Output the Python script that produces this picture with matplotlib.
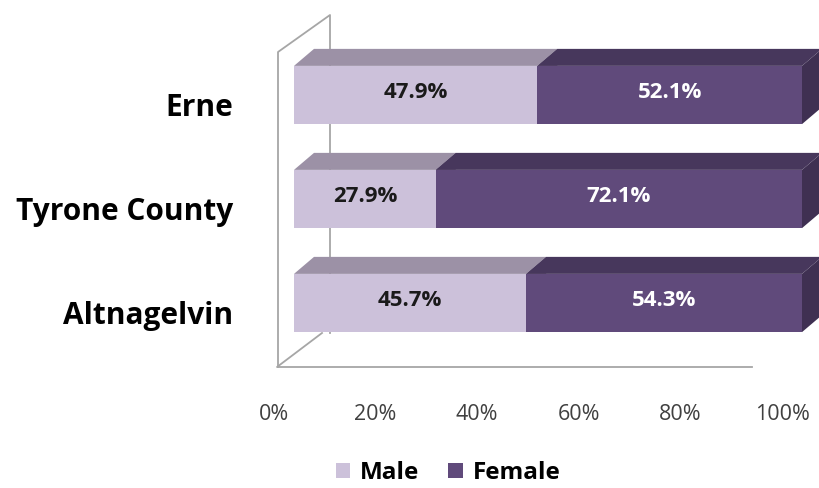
import matplotlib
matplotlib.use("Agg")
import matplotlib.pyplot as plt
from matplotlib.patches import Polygon, Patch
from matplotlib.transforms import ScaledTranslation

#data
categories = ['Altnagelvin', 'Tyrone County', 'Erne']
male = [45.7, 27.9, 47.9]
female = [54.3, 72.1, 52.1]
ticks = [0, 20, 40, 60, 80, 100]
tick_labels = ['0%', '20%', '40%', '60%', '80%', '100%']

#colours (front, top, side)
MALE_C = ('#ccc1da', '#9c91a6', '#8a8096')
FEMALE_C = ('#604a7b', '#47375c', '#3f3052')
WALL = '#a6a6a6'

plt.rcParams['font.family'] = ['Open Sans', 'DejaVu Sans']

W, H = 819, 488
fig = plt.figure(figsize=(W / 100, H / 100), dpi=100)

# axes placed so 0..100% spans the front face of the bars
px_x0, px_x1 = 294, 802
ylo, yhi = -0.8, 2.8
unit_y = 104
bottom_px = 185 + ylo * unit_y
ax = fig.add_axes([px_x0 / W, bottom_px / H, (px_x1 - px_x0) / W, (yhi - ylo) * unit_y / H])
ax.set_xlim(0, 100)
ax.set_ylim(ylo, yhi)
for s in ax.spines.values():
    s.set_visible(False)
ax.patch.set_alpha(0)

sx = (px_x1 - px_x0) / 100.0  # pixels per x unit
dx = 20 / sx     # depth offset in data units
dy = 17 / unit_y
bh = 0.56


def px2x(p):
    return (p - px_x0) / sx


def py2y(p):
    return (H - p - 185) / unit_y


# back wall / floor outline
wl = dict(color=WALL, lw=1.3, clip_on=False, zorder=1)
ax.plot([px2x(278), px2x(278), px2x(330), px2x(330)],
        [py2y(367), py2y(52), py2y(15), py2y(333)], **wl)
ax.plot([px2x(322), px2x(277), px2x(752)],
        [py2y(333), py2y(367), py2y(367)], **wl)


def box(x0, w, y, cols):
    x1 = x0 + w
    yb, yt = y - bh / 2, y + bh / 2
    ax.add_patch(Polygon([(x0, yb), (x1, yb), (x1, yt), (x0, yt)],
                         closed=True, fc=cols[0], ec='none', clip_on=False, zorder=3))
    ax.add_patch(Polygon([(x0, yt), (x1, yt), (x1 + dx, yt + dy), (x0 + dx, yt + dy)],
                         closed=True, fc=cols[1], ec='none', clip_on=False, zorder=3))
    ax.add_patch(Polygon([(x1, yb), (x1 + dx, yb + dy), (x1 + dx, yt + dy), (x1, yt)],
                         closed=True, fc=cols[2], ec='none', clip_on=False, zorder=2))


for i, cat in enumerate(categories):
    box(0, male[i], i, MALE_C)
    box(male[i], female[i], i, FEMALE_C)
    ax.text(male[i] / 2, i + 0.02, f'{male[i]:.1f}%', ha='center', va='center',
            fontsize=16, fontweight='bold', color='#1a1a1a', zorder=5)
    ax.text(male[i] + female[i] / 2, i + 0.02, f'{female[i]:.1f}%', ha='center', va='center',
            fontsize=16, fontweight='bold', color='white', zorder=5)
    ax.text(px2x(233), i - 0.125, cat, ha='right', va='center',
            fontsize=21.5, fontweight='bold', color='black', clip_on=False)

ax.set_yticks([])
ax.set_xticks(ticks)
ax.set_xticklabels(tick_labels, fontsize=15.5, color='#404040')
ax.tick_params(axis='x', length=0, pad=13)
off = ScaledTranslation(-20 / 100, 0, fig.dpi_scale_trans)
for lab in ax.get_xticklabels():
    lab.set_transform(lab.get_transform() + off)

handles = [Patch(fc=MALE_C[0], ec='none'), Patch(fc=FEMALE_C[0], ec='none')]
fig.legend(handles, ['Male', 'Female'], loc='center', bbox_to_anchor=(448 / W, 1 - 473 / H),
           ncol=2, frameon=False, prop=dict(size=17.5, weight='bold'),
           handlelength=0.6, handleheight=0.6, handletextpad=0.4, columnspacing=1.2,
           borderpad=0, borderaxespad=0)

fig.savefig('out.png', dpi=100)
